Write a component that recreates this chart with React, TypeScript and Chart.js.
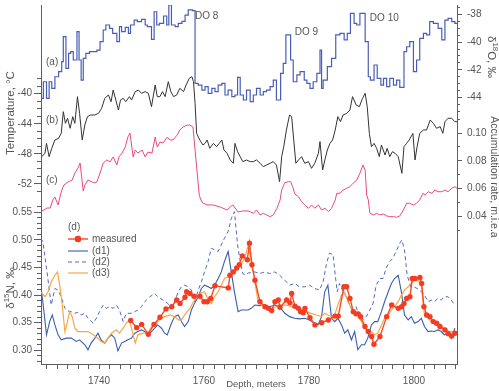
import React, { useEffect, useRef } from "react";
import { Chart, registerables } from "chart.js";

Chart.register(...registerables);

// ---------- data (depth in m, value) ----------
const d18oSteps: number[][] = [
  [1729.0, -44.06], [1729.4, -42.86], [1730.0, -44.06], [1730.5, -42.86], [1731.0, -43.34], [1731.6, -42.5],
  [1732.3, -42.13], [1732.9, -41.41], [1733.2, -39.6], [1733.7, -41.89], [1734.2, -40.81], [1734.6, -40.69],
  [1735.1, -41.29], [1735.8, -39.24], [1736.2, -41.29], [1736.6, -42.74], [1737.0, -41.17], [1737.5, -40.81],
  [1738.2, -40.69], [1739.6, -40.57], [1740.2, -39.96], [1740.8, -39.12], [1741.3, -38.76], [1742.0, -39.0],
  [1742.6, -39.36], [1743.4, -39.96], [1743.9, -38.88], [1744.3, -39.24], [1745.0, -38.93], [1745.6, -39.36],
  [1746.0, -38.76], [1746.7, -38.4], [1747.3, -38.52], [1748.1, -38.35], [1748.8, -38.76], [1749.2, -38.88],
  [1750.0, -39.8], [1750.5, -37.8], [1751.0, -38.76], [1751.5, -38.64], [1752.3, -38.11], [1752.9, -38.76],
  [1753.3, -37.31], [1753.8, -38.76], [1754.5, -38.88], [1755.1, -38.64], [1755.8, -38.5], [1756.4, -38.04],
  [1757.0, -37.67], [1757.8, -37.72], [1758.3, -42.98], [1758.9, -43.1], [1759.6, -43.46], [1760.2, -43.22],
  [1760.8, -43.7], [1761.5, -43.34], [1762.1, -43.58], [1762.7, -43.1], [1763.4, -42.98], [1764.0, -43.82],
  [1764.6, -43.46], [1765.3, -43.94], [1765.9, -43.82], [1766.4, -42.54], [1766.9, -43.82], [1767.5, -44.18],
  [1768.1, -43.46], [1768.8, -44.3], [1769.4, -43.82], [1770.0, -43.34], [1770.7, -43.82], [1771.3, -43.58],
  [1771.9, -43.46], [1772.6, -43.22], [1773.2, -42.74], [1773.8, -44.18], [1774.6, -42.25], [1775.1, -41.53],
  [1775.6, -39.48], [1776.5, -41.29], [1777.0, -42.86], [1777.7, -42.37], [1778.3, -42.13], [1779.1, -42.74],
  [1779.6, -42.98], [1780.2, -43.34], [1780.8, -42.86], [1781.5, -42.25], [1782.1, -40.57], [1782.4, -43.34],
  [1782.7, -42.74], [1783.5, -41.77], [1784.3, -41.17], [1785.1, -39.48], [1785.9, -39.36], [1786.7, -39.84],
  [1787.3, -39.36], [1787.9, -37.92], [1788.6, -38.64], [1789.1, -38.76], [1789.7, -37.92], [1790.7, -39.96],
  [1791.3, -42.5], [1791.7, -42.74], [1792.4, -41.65], [1793.0, -42.62], [1793.7, -43.1], [1794.2, -42.62],
  [1794.8, -43.22], [1795.4, -42.62], [1796.1, -43.1], [1796.7, -42.74], [1797.3, -43.27], [1798.1, -40.69],
  [1798.6, -40.33], [1799.2, -39.96], [1799.9, -42.13], [1800.5, -41.29], [1801.1, -39.72], [1801.8, -39.36],
  [1802.4, -39.48], [1803.0, -38.52], [1803.7, -38.64], [1804.6, -39.0], [1805.3, -39.84], [1805.9, -38.4],
  [1806.5, -38.28], [1807.2, -38.52], [1807.8, -38.64], [1808.2, -38.64],
];

const temperature: number[][] = [
  [1729.1, -48.37], [1729.7, -47.92], [1730.0, -46.6], [1730.5, -48.37], [1731.0, -47.26], [1731.6, -46.15],
  [1732.3, -45.93], [1732.8, -45.27], [1733.2, -42.39], [1733.6, -43.94], [1734.0, -43.27], [1734.5, -44.6],
  [1735.0, -43.05], [1735.4, -43.94], [1735.9, -40.39], [1736.3, -42.61], [1736.8, -46.15], [1737.3, -44.16],
  [1737.8, -43.05], [1738.4, -42.83], [1739.2, -42.83], [1739.9, -42.61], [1740.5, -41.94], [1741.1, -40.62],
  [1741.8, -40.17], [1742.3, -41.06], [1742.7, -39.51], [1743.2, -40.84], [1743.7, -42.17], [1744.1, -40.84],
  [1744.6, -40.62], [1745.1, -41.06], [1745.8, -40.39], [1746.2, -40.84], [1746.9, -39.73], [1747.5, -39.51],
  [1748.1, -39.95], [1748.8, -39.73], [1749.4, -39.95], [1750.0, -41.72], [1750.7, -38.84], [1751.1, -40.39],
  [1751.6, -40.39], [1752.1, -39.73], [1752.6, -40.39], [1753.2, -38.4], [1753.7, -39.73], [1754.2, -40.39],
  [1754.8, -40.17], [1755.4, -39.29], [1756.1, -39.73], [1756.6, -38.84], [1757.2, -37.96], [1757.7, -37.74],
  [1758.0, -38.4], [1758.3, -41.28], [1758.6, -45.27], [1759.2, -46.15], [1759.8, -46.82], [1760.2, -46.6],
  [1760.6, -46.15], [1761.1, -47.26], [1761.8, -46.6], [1762.4, -47.04], [1762.9, -46.6], [1763.4, -46.15],
  [1763.8, -47.48], [1764.4, -47.92], [1765.0, -48.81], [1765.6, -49.25], [1765.9, -46.6], [1766.4, -47.7],
  [1766.9, -48.37], [1767.4, -49.03], [1768.1, -48.81], [1768.8, -49.03], [1769.4, -49.03], [1770.0, -48.8],
  [1770.7, -49.25], [1771.3, -49.7], [1771.9, -49.48], [1772.6, -49.25], [1773.2, -49.03], [1773.8, -49.48],
  [1774.4, -51.69], [1774.8, -48.37], [1775.2, -47.04], [1775.7, -44.82], [1776.3, -42.83], [1776.7, -43.05],
  [1777.1, -46.15], [1777.5, -49.25], [1778.0, -48.81], [1778.6, -48.37], [1779.2, -49.25], [1779.9, -49.03],
  [1780.5, -49.92], [1781.1, -49.25], [1781.8, -47.92], [1782.1, -46.37], [1782.6, -50.14], [1783.1, -48.59],
  [1783.5, -47.48], [1784.0, -46.6], [1784.5, -46.15], [1785.0, -44.82], [1785.5, -43.05], [1786.0, -43.72],
  [1786.5, -42.83], [1787.2, -42.61], [1787.8, -42.17], [1788.3, -40.39], [1789.0, -41.5], [1789.6, -41.72],
  [1790.2, -40.62], [1790.7, -39.95], [1791.1, -41.72], [1791.5, -45.27], [1791.9, -47.04], [1792.4, -46.6],
  [1792.9, -47.26], [1793.4, -48.37], [1793.8, -46.82], [1794.5, -48.15], [1794.9, -47.26], [1795.4, -48.37],
  [1795.9, -47.7], [1796.4, -47.92], [1797.0, -48.37], [1797.7, -50.58], [1798.1, -47.04], [1798.6, -46.6],
  [1799.1, -46.15], [1799.8, -45.27], [1800.2, -48.81], [1800.6, -47.04], [1801.1, -45.27], [1801.8, -44.82],
  [1802.4, -44.82], [1803.1, -43.49], [1803.7, -43.94], [1804.3, -44.6], [1805.0, -44.38], [1805.5, -45.27],
  [1805.9, -43.72], [1806.5, -43.27], [1807.2, -43.27], [1807.8, -43.72], [1808.2, -43.72],
];

const accumulation: number[][] = [
  [1729.0, 0.044], [1729.5, 0.0447], [1730.1, 0.0461], [1730.7, 0.0461], [1731.2, 0.0519], [1731.6, 0.054],
  [1732.2, 0.0483], [1732.8, 0.0576], [1733.3, 0.0626], [1734.1, 0.0648], [1734.9, 0.0662], [1735.4, 0.0713],
  [1736.0, 0.0748], [1736.4, 0.0784], [1737.0, 0.0583], [1737.3, 0.0626], [1737.9, 0.0662], [1738.7, 0.0648],
  [1739.2, 0.0641], [1739.6, 0.0648], [1740.2, 0.0713], [1740.8, 0.0784], [1741.5, 0.0806], [1742.1, 0.0792],
  [1742.7, 0.0828], [1743.4, 0.077], [1743.8, 0.0828], [1744.4, 0.0856], [1745.0, 0.0899], [1745.5, 0.0971],
  [1745.9, 0.1], [1746.5, 0.0828], [1746.9, 0.0878], [1747.4, 0.0856], [1748.2, 0.0878], [1748.8, 0.0828],
  [1749.3, 0.0863], [1750.1, 0.0856], [1750.7, 0.0971], [1751.1, 0.0899], [1751.6, 0.0935], [1752.2, 0.0928],
  [1753.0, 0.0971], [1753.5, 0.095], [1754.1, 0.095], [1754.9, 0.0986], [1755.4, 0.1022], [1756.0, 0.1043],
  [1756.8, 0.1057], [1757.3, 0.1057], [1757.9, 0.1043], [1758.3, 0.0878], [1758.7, 0.0713], [1759.1, 0.0554],
  [1759.4, 0.0519], [1759.8, 0.0497], [1760.6, 0.0483], [1761.7, 0.0483], [1763.1, 0.0468], [1764.4, 0.0447],
  [1765.0, 0.0468], [1765.5, 0.0483], [1766.5, 0.0432], [1767.4, 0.044], [1768.4, 0.044], [1768.8, 0.0434],
  [1769.4, 0.0423], [1770.0, 0.0447], [1770.7, 0.0411], [1771.3, 0.0423], [1771.9, 0.0411], [1772.6, 0.0399],
  [1773.2, 0.0411], [1773.9, 0.0459], [1774.5, 0.0519], [1774.8, 0.059], [1775.4, 0.0643], [1776.1, 0.065],
  [1776.5, 0.065], [1776.9, 0.0614], [1777.3, 0.0562], [1778.0, 0.0542], [1778.6, 0.0506], [1779.2, 0.0483],
  [1779.9, 0.0459], [1780.5, 0.0483], [1781.1, 0.0459], [1781.8, 0.0483], [1782.4, 0.0447], [1783.1, 0.0459],
  [1783.7, 0.0434], [1784.3, 0.0459], [1785.0, 0.0519], [1785.3, 0.0567], [1785.9, 0.0567], [1786.5, 0.059],
  [1787.2, 0.0603], [1787.8, 0.0614], [1788.4, 0.0639], [1789.1, 0.0662], [1789.7, 0.071], [1790.3, 0.077],
  [1790.7, 0.0734], [1791.0, 0.0554], [1791.3, 0.0519], [1791.6, 0.0423], [1792.3, 0.0411], [1792.9, 0.0423],
  [1793.5, 0.0411], [1794.2, 0.0418], [1794.8, 0.0404], [1795.4, 0.0399], [1796.1, 0.0399], [1796.7, 0.0394],
  [1797.3, 0.0404], [1798.0, 0.0447], [1798.6, 0.0495], [1799.2, 0.0495], [1799.9, 0.0483], [1800.5, 0.0495],
  [1801.1, 0.0519], [1801.7, 0.0567], [1802.1, 0.0554], [1802.7, 0.0578], [1803.4, 0.0567], [1804.0, 0.059],
  [1804.6, 0.0578], [1805.3, 0.0578], [1805.9, 0.059], [1806.5, 0.0578], [1807.2, 0.0603], [1807.8, 0.0614],
  [1808.2, 0.0603],
];

const measured: number[][] = [
  [1746.04, 0.354], [1747.18, 0.341], [1748.13, 0.347], [1749.39, 0.329], [1750.48, 0.347], [1751.62, 0.36],
  [1752.76, 0.375], [1753.85, 0.379], [1754.8, 0.391], [1755.43, 0.385], [1756.38, 0.396], [1756.7, 0.406],
  [1757.33, 0.403], [1758.1, 0.398], [1759.24, 0.398], [1760.0, 0.388], [1760.63, 0.388], [1761.28, 0.394],
  [1762.1, 0.417], [1764.63, 0.413], [1764.95, 0.436], [1765.58, 0.442], [1766.23, 0.449], [1766.72, 0.455],
  [1767.3, 0.471], [1768.25, 0.464], [1768.67, 0.494], [1769.14, 0.455], [1769.71, 0.427], [1770.67, 0.388],
  [1771.62, 0.379], [1772.25, 0.376], [1772.9, 0.372], [1773.52, 0.388], [1774.15, 0.391], [1774.48, 0.378],
  [1775.75, 0.391], [1776.38, 0.386], [1776.7, 0.403], [1777.33, 0.38], [1777.96, 0.376], [1778.42, 0.37],
  [1778.91, 0.368], [1779.24, 0.376], [1780.19, 0.359], [1781.14, 0.346], [1782.42, 0.35], [1783.68, 0.355],
  [1784.95, 0.362], [1785.58, 0.362], [1786.67, 0.415], [1787.18, 0.415], [1787.81, 0.394], [1788.44, 0.37],
  [1788.95, 0.366], [1789.39, 0.366], [1789.85, 0.361], [1790.67, 0.343], [1791.3, 0.334], [1791.94, 0.325],
  [1792.38, 0.311], [1793.52, 0.325], [1794.8, 0.361], [1795.75, 0.382], [1797.01, 0.376], [1797.66, 0.379],
  [1798.1, 0.385], [1798.61, 0.394], [1799.24, 0.397], [1799.68, 0.43], [1800.19, 0.43], [1801.14, 0.432],
  [1801.47, 0.421], [1801.9, 0.379], [1802.42, 0.364], [1803.05, 0.361], [1803.68, 0.352], [1804.32, 0.349],
  [1804.95, 0.343], [1805.9, 0.337], [1806.53, 0.33], [1807.18, 0.326], [1807.81, 0.331],
];

const modelD1: number[][] = [
  [1728.9, 0.418], [1729.3, 0.388], [1730.0, 0.328], [1730.6, 0.352], [1731.1, 0.364], [1731.6, 0.346],
  [1732.2, 0.328], [1732.8, 0.319], [1733.8, 0.322], [1734.7, 0.322], [1735.7, 0.316], [1736.3, 0.319],
  [1737.3, 0.31], [1737.9, 0.301], [1738.5, 0.313], [1739.2, 0.322], [1739.8, 0.331], [1740.4, 0.319],
  [1741.1, 0.313], [1741.7, 0.322], [1742.4, 0.328], [1743.0, 0.322], [1743.6, 0.299], [1744.3, 0.313],
  [1744.9, 0.316], [1745.5, 0.319], [1746.2, 0.322], [1746.8, 0.331], [1747.4, 0.334], [1748.1, 0.337],
  [1748.7, 0.334], [1749.3, 0.328], [1750.0, 0.334], [1750.6, 0.34], [1751.2, 0.346], [1751.9, 0.34],
  [1752.5, 0.331], [1753.0, 0.328], [1753.8, 0.349], [1754.4, 0.361], [1755.1, 0.364], [1755.7, 0.352],
  [1756.3, 0.343], [1757.0, 0.352], [1757.6, 0.373], [1758.2, 0.385], [1758.9, 0.397], [1759.5, 0.412],
  [1760.1, 0.418], [1760.8, 0.415], [1761.4, 0.412], [1762.0, 0.418], [1762.7, 0.43], [1763.3, 0.442],
  [1763.9, 0.461], [1764.6, 0.479], [1765.2, 0.442], [1765.8, 0.406], [1766.5, 0.37], [1767.1, 0.373],
  [1767.8, 0.373], [1768.4, 0.373], [1769.0, 0.376], [1769.7, 0.382], [1770.6, 0.381], [1771.6, 0.382],
  [1772.5, 0.379], [1773.5, 0.382], [1774.4, 0.379], [1775.4, 0.367], [1776.3, 0.361], [1777.3, 0.358],
  [1778.2, 0.357], [1779.2, 0.358], [1780.1, 0.355], [1781.1, 0.349], [1781.7, 0.346], [1782.4, 0.361],
  [1783.0, 0.406], [1783.6, 0.418], [1784.3, 0.358], [1784.9, 0.352], [1785.5, 0.358], [1786.2, 0.346],
  [1786.8, 0.331], [1787.4, 0.337], [1788.1, 0.319], [1788.7, 0.334], [1789.3, 0.301], [1790.0, 0.31],
  [1790.6, 0.31], [1791.2, 0.322], [1791.9, 0.346], [1792.5, 0.352], [1793.1, 0.352], [1793.8, 0.37],
  [1794.4, 0.388], [1795.1, 0.406], [1795.7, 0.421], [1796.3, 0.43], [1797.0, 0.436], [1797.6, 0.406],
  [1798.2, 0.364], [1798.9, 0.355], [1799.5, 0.361], [1800.1, 0.349], [1800.8, 0.352], [1801.4, 0.358],
  [1802.0, 0.343], [1802.7, 0.334], [1803.3, 0.335], [1803.9, 0.334], [1804.6, 0.337], [1805.2, 0.334],
  [1805.8, 0.328], [1806.5, 0.331], [1807.1, 0.322], [1807.8, 0.34],
];

const modelD2: number[][] = [
  [1728.9, 0.503], [1729.3, 0.497], [1730.0, 0.449], [1730.9, 0.382], [1731.6, 0.412], [1732.2, 0.409],
  [1732.8, 0.397], [1733.5, 0.376], [1734.1, 0.371], [1734.7, 0.37], [1735.4, 0.367], [1736.0, 0.369],
  [1736.6, 0.364], [1737.3, 0.367], [1737.9, 0.358], [1738.9, 0.349], [1739.5, 0.358], [1740.1, 0.37],
  [1740.8, 0.382], [1741.4, 0.376], [1742.0, 0.379], [1742.7, 0.376], [1743.3, 0.382], [1743.9, 0.373],
  [1744.6, 0.352], [1745.2, 0.367], [1746.2, 0.367], [1746.8, 0.37], [1747.4, 0.373], [1748.1, 0.379],
  [1748.7, 0.388], [1749.7, 0.397], [1750.6, 0.403], [1751.2, 0.397], [1752.2, 0.391], [1753.1, 0.385],
  [1753.8, 0.376], [1754.4, 0.388], [1755.1, 0.406], [1755.7, 0.415], [1756.3, 0.418], [1757.0, 0.415],
  [1757.6, 0.409], [1758.2, 0.388], [1758.9, 0.409], [1759.5, 0.424], [1760.1, 0.442], [1760.8, 0.461],
  [1761.4, 0.485], [1762.0, 0.482], [1762.7, 0.479], [1763.3, 0.491], [1763.9, 0.503], [1764.6, 0.515],
  [1765.2, 0.539], [1765.8, 0.551], [1766.4, 0.491], [1766.9, 0.461], [1767.4, 0.439], [1767.9, 0.436],
  [1768.4, 0.44], [1769.7, 0.442], [1770.6, 0.439], [1771.6, 0.442], [1772.5, 0.439], [1773.5, 0.442],
  [1774.4, 0.436], [1775.4, 0.427], [1776.3, 0.418], [1777.3, 0.421], [1778.2, 0.415], [1779.2, 0.415],
  [1780.1, 0.418], [1781.1, 0.412], [1782.0, 0.409], [1782.7, 0.424], [1783.3, 0.455], [1783.9, 0.476],
  [1784.6, 0.473], [1785.0, 0.436], [1785.4, 0.406], [1785.8, 0.421], [1786.5, 0.406], [1787.1, 0.397],
  [1787.8, 0.382], [1788.4, 0.367], [1789.0, 0.379], [1789.7, 0.355], [1790.3, 0.355], [1790.9, 0.361],
  [1791.6, 0.373], [1792.2, 0.385], [1792.8, 0.418], [1793.5, 0.43], [1794.1, 0.43], [1794.7, 0.449],
  [1795.4, 0.461], [1796.0, 0.467], [1796.6, 0.479], [1797.3, 0.494], [1797.7, 0.5], [1798.2, 0.482],
  [1798.7, 0.436], [1799.4, 0.415], [1800.0, 0.415], [1800.6, 0.412], [1801.4, 0.406], [1802.0, 0.4],
  [1802.7, 0.388], [1803.3, 0.391], [1803.9, 0.388], [1804.6, 0.394], [1805.2, 0.391], [1805.8, 0.397],
  [1806.5, 0.397], [1807.1, 0.391], [1807.8, 0.382],
];

const modelD3: number[][] = [
  [1728.9, 0.406], [1729.7, 0.397], [1730.3, 0.406], [1730.9, 0.424], [1731.6, 0.436], [1732.1, 0.442],
  [1732.5, 0.418], [1733.0, 0.382], [1733.5, 0.334], [1734.0, 0.352], [1734.4, 0.37], [1734.9, 0.361],
  [1735.4, 0.34], [1736.0, 0.334], [1737.0, 0.334], [1737.9, 0.334], [1738.9, 0.328], [1739.8, 0.322],
  [1740.4, 0.316], [1741.1, 0.313], [1741.7, 0.322], [1742.4, 0.331], [1743.3, 0.337], [1743.9, 0.331],
  [1744.6, 0.34], [1745.2, 0.349], [1745.8, 0.355], [1746.5, 0.328], [1746.9, 0.313], [1747.4, 0.328],
  [1748.4, 0.331], [1749.3, 0.331], [1750.0, 0.343], [1750.6, 0.346], [1751.2, 0.352], [1751.9, 0.358],
  [1752.5, 0.361], [1753.5, 0.364], [1754.4, 0.361], [1755.1, 0.355], [1755.7, 0.355], [1756.3, 0.364],
  [1757.3, 0.376], [1758.2, 0.391], [1759.2, 0.403], [1760.1, 0.406], [1760.8, 0.391], [1761.4, 0.385],
  [1762.0, 0.397], [1762.7, 0.406], [1763.3, 0.418], [1763.9, 0.43], [1764.6, 0.433], [1765.2, 0.436],
  [1765.8, 0.442], [1766.5, 0.45], [1767.1, 0.455], [1767.8, 0.468], [1768.4, 0.49], [1769.0, 0.461],
  [1769.7, 0.424], [1770.3, 0.388], [1770.9, 0.382], [1771.9, 0.379], [1772.8, 0.376], [1773.8, 0.379],
  [1774.7, 0.382], [1775.7, 0.382], [1776.6, 0.379], [1777.6, 0.376], [1778.5, 0.373], [1779.5, 0.37],
  [1780.4, 0.367], [1781.4, 0.364], [1782.4, 0.361], [1783.0, 0.367], [1783.6, 0.364], [1784.3, 0.361],
  [1784.9, 0.364], [1785.5, 0.382], [1786.2, 0.4], [1786.8, 0.406], [1787.4, 0.388], [1788.1, 0.376],
  [1788.7, 0.367], [1789.3, 0.364], [1790.0, 0.352], [1790.6, 0.34], [1791.2, 0.334], [1791.9, 0.334],
  [1792.5, 0.328], [1793.1, 0.331], [1793.8, 0.346], [1794.4, 0.358], [1795.1, 0.364], [1795.7, 0.373],
  [1796.3, 0.379], [1797.0, 0.388], [1797.6, 0.4], [1798.2, 0.409], [1798.9, 0.415], [1799.5, 0.421],
  [1800.1, 0.427], [1800.8, 0.427], [1801.4, 0.418], [1802.0, 0.364], [1802.7, 0.358], [1803.3, 0.352],
  [1803.9, 0.349], [1804.6, 0.346], [1805.2, 0.343], [1805.8, 0.34], [1806.5, 0.335], [1807.1, 0.334],
  [1807.8, 0.334],
];

// ---------- tick labels ----------
const depthLabels = [1740, 1760, 1780, 1800];
const tempTicks = [-40, -44, -48, -52];
const d15nTicks = [0.3, 0.35, 0.4, 0.45, 0.5, 0.55];
const d18oTicks = [-38, -40, -42, -44];
const accTicks = [0.1, 0.08, 0.06, 0.04];

const panelLabels = [
  { text: "(a)", depth: 1729.9, axis: "yO", value: -41.43 },
  { text: "(b)", depth: 1729.9, axis: "yT", value: -43.5 },
  { text: "(c)", depth: 1729.9, axis: "yA", value: 0.0662 },
  { text: "DO 8", depth: 1758.3, axis: "yO", value: -38.1 },
  { text: "DO 9", depth: 1777.3, axis: "yO", value: -39.3 },
  { text: "DO 10", depth: 1791.6, axis: "yO", value: -38.25 },
];

// ---------- layout helpers ----------
const FONT = '"Liberation Sans", Arial, Helvetica, sans-serif';
const INK = "#555555";
const AXIS = "#5e5e5e";
const TOP = 5;
const BOTTOM = 364;

type Range = { min: number; max: number };
function span(v1: number, p1: number, v2: number, p2: number): Range {
  const k = (v1 - v2) / (p2 - p1);
  return { min: v1 - (BOTTOM - p1) * k, max: v1 + (p1 - TOP) * k };
}
const R_N = span(0.55, 212.3, 0.3, 350.3);
const R_T = span(-40, 93.7, -52, 184);
const R_O = span(-38, 14.5, -44, 97.5);
const R_A = span(0.1, 133, 0.04, 216.5);
const X_RANGE = { min: 1728.95, max: 1808.2 };

function remap(v: number, from: Range, to: Range) {
  return to.min + ((v - from.min) * (to.max - to.min)) / (from.max - from.min);
}

type T = { value: number; txt: string };
const leftMajor: T[] = [
  ...d15nTicks.map((v) => ({ value: v, txt: v.toFixed(2) })),
  ...tempTicks.map((t) => ({ value: remap(t, R_T, R_N), txt: String(t) })),
].sort((a, b) => a.value - b.value);
const rightMajor: T[] = [
  ...d18oTicks.map((v) => ({ value: v, txt: String(v) })),
  ...accTicks.map((a) => ({ value: remap(a, R_A, R_O), txt: a.toFixed(2) })),
].sort((a, b) => a.value - b.value);

const leftMinor: T[] = [];
for (let i = 28; i <= 56; i++) leftMinor.push({ value: i / 100, txt: "" });
for (let t = -38; t >= -53; t--) leftMinor.push({ value: remap(t, R_T, R_N), txt: "" });
leftMinor.sort((a, b) => a.value - b.value);
const rightMinor: T[] = [];
for (let i = 0; i <= 15; i++) rightMinor.push({ value: -37.5 - i * 0.5, txt: "" });
for (let i = 3; i <= 11; i++) rightMinor.push({ value: remap(i / 100, R_A, R_O), txt: "" });
rightMinor.sort((a, b) => a.value - b.value);
const xTicks: T[] = [];
for (let d = 1730; d <= 1808; d += 2) xTicks.push({ value: d, txt: depthLabels.includes(d) ? String(d) : "" });

const pts = (arr: number[][]) => arr.map(([x, y]) => ({ x, y }));

function drawRich(ctx: CanvasRenderingContext2D, parts: [string, boolean][], size: number) {
  const sup = size * 0.68;
  let w = 0;
  for (const [t, s] of parts) {
    ctx.font = `${s ? sup : size}px ${FONT}`;
    w += ctx.measureText(t).width;
  }
  let x = -w / 2;
  for (const [t, s] of parts) {
    ctx.font = `${s ? sup : size}px ${FONT}`;
    ctx.fillText(t, x, s ? -size * 0.38 : 0);
    x += ctx.measureText(t).width;
  }
}

const textPlugin = {
  id: "texts",
  afterDraw(chart: any) {
    const ctx: CanvasRenderingContext2D = chart.ctx;
    const sx = chart.scales.x;
    ctx.save();
    ctx.fillStyle = INK;
    ctx.textBaseline = "middle";
    ctx.textAlign = "left";
    ctx.font = `10px ${FONT}`;
    for (const l of panelLabels) {
      ctx.fillText(l.text, sx.getPixelForValue(l.depth), chart.scales[l.axis].getPixelForValue(l.value));
    }

    // legend (d)
    const lx = 68;
    ctx.fillText("(d)", lx, 227);
    const ds = chart.data.datasets;
    const rows: [number, number][] = [[0, 239], [2, 251], [3, 262], [1, 273]];
    for (const [idx, y] of rows) {
      const d = ds[idx];
      ctx.save();
      ctx.strokeStyle = d.borderColor;
      ctx.lineWidth = d.borderWidth;
      ctx.setLineDash(d.borderDash || []);
      ctx.beginPath();
      ctx.moveTo(lx, y);
      ctx.lineTo(lx + 20, y);
      ctx.stroke();
      if (d.pointRadius > 0) {
        ctx.setLineDash([]);
        ctx.fillStyle = d.pointBackgroundColor;
        ctx.beginPath();
        ctx.arc(lx + 10, y, d.pointRadius + 0.6, 0, Math.PI * 2);
        ctx.fill();
      }
      ctx.restore();
      ctx.fillText(d.label, lx + 24, y);
    }

    // axis titles
    ctx.textAlign = "left";
    ctx.save();
    ctx.translate(11, 113);
    ctx.rotate(-Math.PI / 2);
    drawRich(ctx, [["Temperature, °C", false]], 11.5);
    ctx.restore();

    ctx.save();
    ctx.translate(11, 288);
    ctx.rotate(-Math.PI / 2);
    drawRich(ctx, [["δ", false], ["15", true], ["N, ‰", false]], 11.5);
    ctx.restore();

    ctx.save();
    ctx.translate(491, 57);
    ctx.rotate(Math.PI / 2);
    drawRich(ctx, [["δ", false], ["18", true], ["O, ‰", false]], 11.5);
    ctx.restore();

    ctx.save();
    ctx.translate(494, 177);
    ctx.rotate(Math.PI / 2);
    drawRich(ctx, [["Accumulation rate, m.i.e.a", false]], 10.5);
    ctx.restore();

    ctx.save();
    ctx.translate(256, 384);
    drawRich(ctx, [["Depth, meters", false]], 9.5);
    ctx.restore();

    ctx.restore();
  },
};

function tickAxis(opts: {
  position: "left" | "right";
  weight: number;
  range: Range;
  ticks: T[];
  width: number;
  tickLength: number;
  labels: boolean;
  padding?: number;
}) {
  return {
    type: "linear",
    position: opts.position,
    weight: opts.weight,
    min: opts.range.min,
    max: opts.range.max,
    bounds: "data",
    afterBuildTicks: (s: any) => {
      s.ticks = opts.ticks.map((t) => ({ value: t.value, txt: t.txt }));
    },
    afterFit: (s: any) => {
      s.width = opts.width;
      s.paddingTop = 0;
      s.paddingBottom = 0;
    },
    ticks: {
      display: opts.labels,
      autoSkip: false,
      padding: opts.padding ?? 2,
      color: INK,
      font: { family: FONT, size: 10 },
      callback: (_v: number, i: number, t: any[]) => t[i].txt,
    },
    grid: { drawOnChartArea: false, tickLength: opts.tickLength, tickColor: AXIS, tickWidth: 1 },
    border: { display: opts.labels, color: AXIS, width: 1 },
  };
}

export default function App() {
  const ref = useRef<HTMLCanvasElement | null>(null);
  useEffect(() => {
    if (!ref.current) return;
    const chart = new Chart(ref.current, {
      type: "line",
      data: {
        datasets: [
          {
            label: "measured",
            data: pts(measured),
            yAxisID: "yN",
            borderColor: "#f34b28",
            borderWidth: 1.4,
            pointRadius: 2.7,
            pointBackgroundColor: "#f33d22",
            pointBorderColor: "#f33d22",
            pointBorderWidth: 0,
          },
          { label: "(d3)", data: pts(modelD3), yAxisID: "yN", borderColor: "#f6a748", borderWidth: 1.2, pointRadius: 0 },
          { label: "(d1)", data: pts(modelD1), yAxisID: "yN", borderColor: "#3a5ead", borderWidth: 1.1, pointRadius: 0 },
          {
            label: "(d2)",
            data: pts(modelD2),
            yAxisID: "yN",
            borderColor: "#5069bb",
            borderWidth: 1,
            borderDash: [4, 3],
            pointRadius: 0,
          },
          {
            label: "(a)",
            data: pts(d18oSteps),
            yAxisID: "yO",
            stepped: true,
            borderColor: "#4a5db6",
            borderWidth: 1.2,
            pointRadius: 0,
          },
          { label: "(b)", data: pts(temperature), yAxisID: "yT", borderColor: "#333333", borderWidth: 1, pointRadius: 0 },
          { label: "(c)", data: pts(accumulation), yAxisID: "yA", borderColor: "#e94a7d", borderWidth: 1, pointRadius: 0 },
        ] as any,
      },
      options: {
        responsive: false,
        animation: false,
        devicePixelRatio: 1,
        layout: { padding: { top: TOP, left: 0, right: 0, bottom: 0 } },
        elements: { line: { tension: 0 } },
        plugins: { legend: { display: false }, tooltip: { enabled: false } },
        scales: {
          x: {
            type: "linear",
            min: X_RANGE.min,
            max: X_RANGE.max,
            bounds: "data",
            afterBuildTicks: (s: any) => {
              s.ticks = xTicks.map((t) => ({ value: t.value, txt: t.txt }));
            },
            afterFit: (s: any) => {
              s.height = 391 - BOTTOM;
              s.paddingLeft = 0;
              s.paddingRight = 0;
            },
            ticks: {
              autoSkip: false,
              maxRotation: 0,
              padding: 6,
              color: INK,
              font: { family: FONT, size: 10 },
              callback: (_v: number, i: number, t: any[]) => t[i].txt,
            },
            grid: { drawOnChartArea: false, tickLength: 5, tickColor: AXIS },
            border: { color: AXIS, width: 1 },
          },
          yN: tickAxis({ position: "left", weight: 1, range: R_N, ticks: leftMajor, width: 41, tickLength: 7, labels: true, padding: 2 }),
          yNm: tickAxis({ position: "left", weight: 0, range: R_N, ticks: leftMinor, width: 0, tickLength: 4, labels: false }),
          yO: tickAxis({ position: "right", weight: 1, range: R_O, ticks: rightMajor, width: 42, tickLength: 5, labels: true, padding: 5 }),
          yOm: tickAxis({ position: "right", weight: 0, range: R_O, ticks: rightMinor, width: 0, tickLength: 3, labels: false }),
          yT: { type: "linear", display: false, min: R_T.min, max: R_T.max },
          yA: { type: "linear", display: false, min: R_A.min, max: R_A.max },
        } as any,
      },
      plugins: [textPlugin],
    });
    return () => chart.destroy();
  }, []);

  return (
    <div style={{ position: "fixed", left: 0, top: 0, width: 499, height: 391, background: "#fff" }}>
      <canvas ref={ref} width={499} height={391} style={{ display: "block", width: 499, height: 391 }} />
    </div>
  );
}
